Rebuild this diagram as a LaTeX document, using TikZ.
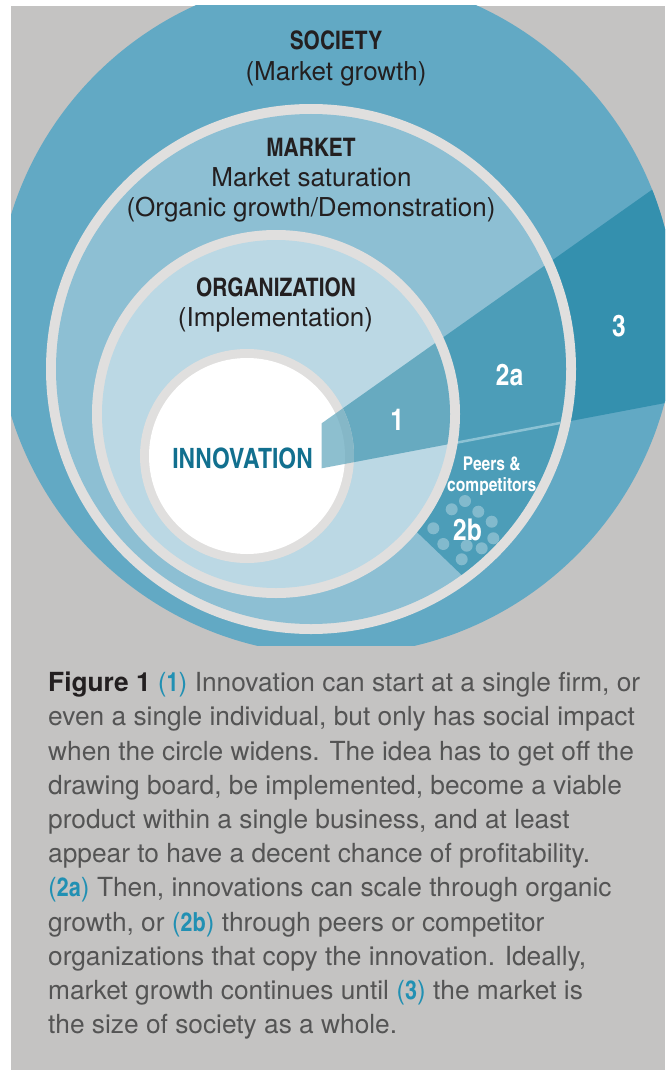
\documentclass[tikz,border=0pt]{standalone}
\usepackage{fontspec}
\setmainfont{TeX Gyre Heros}
\newfontfamily\cnfont{texgyreheroscn}[Extension=.otf,UprightFont=*-regular,BoldFont=*-bold]
\definecolor{bggrey}{HTML}{C4C3C2}
\definecolor{ringgrey}{HTML}{E0DFDE}
\definecolor{socC}{HTML}{62A9C4}
\definecolor{socW}{HTML}{3490AE}
\definecolor{mktC}{HTML}{8DBFD3}
\definecolor{mktW}{HTML}{4C9DB8}
\definecolor{orgC}{HTML}{BBD8E4}
\definecolor{orgW}{HTML}{67AAC0}
\definecolor{stripe}{HTML}{8CC2D4}
\definecolor{darktxt}{HTML}{231F20}
\definecolor{inncol}{HTML}{12708F}
\definecolor{captgrey}{HTML}{545454}
\definecolor{tealref}{HTML}{2190B3}
\newcommand\myref[1]{{\color{tealref}(\cnfont\bfseries #1\normalfont)}}
\begin{document}
\begin{tikzpicture}[x=1pt,y=-1pt,
  ttl/.style={anchor=base,inner sep=0,text=darktxt,font=\cnfont\bfseries\fontsize{25.5}{28}\selectfont},
  sub/.style={anchor=base,inner sep=0,text=darktxt,font=\fontsize{26}{28}\selectfont},
  inn/.style={anchor=base,inner sep=0,text=inncol,font=\cnfont\bfseries\fontsize{28}{30}\selectfont},
  num/.style={anchor=base,inner sep=0,text=white,font=\cnfont\bfseries\fontsize{30}{32}\selectfont},
  small/.style={anchor=base,inner sep=0,text=white,font=\cnfont\bfseries\fontsize{19}{20}\selectfont},
  capt/.style={anchor=base west,inner sep=0,text=captgrey,font=\fontsize{26.3}{30}\selectfont},
  dot/.style={fill=white,fill opacity=0.3}]
\useasboundingbox (0,0) rectangle (665,1070);
\fill[white] (0,0) rectangle (665,1070);
\fill[bggrey] (11,6) rectangle (665,1070);
% centres
\coordinate (cS) at (336,315);
\coordinate (cM) at (311,369);
\coordinate (cO) at (276,414);
\coordinate (cI) at (247,456);
% wedge
\coordinate (w1) at (321.7,423.3);
\coordinate (w2) at (800,85.1);
\coordinate (w3) at (800,377.4);
\coordinate (w4) at (321.7,468.3);
% 2b region
\coordinate (b1) at (380,457.2);
\coordinate (b3) at (800,899.8);
\coordinate (b4) at (380,496.6);
\begin{scope}
\clip (11,6) rectangle (665,645);
\fill[socC] (cS) circle[radius=340pt];
\begin{scope}
  \clip (cS) circle[radius=340pt];
  \fill[socW] (w1) -- (w2) -- (w3) -- (w4) -- cycle;
\end{scope}
\fill[ringgrey] (cM) circle[radius=265pt];
\fill[mktC] (cM) circle[radius=255pt];
\begin{scope}
  \clip (cM) circle[radius=255pt];
  \fill[mktW] (w1) -- (w2) -- (w3) -- (w4) -- cycle;
  \fill[mktW] (b1) -- (w3) -- (b3) -- (b4) -- cycle;
  \begin{scope}
    \clip (b1) -- (w3) -- (b3) -- (b4) -- cycle;
    \foreach \p in {(465,501),(451.7,509.3),(478.3,511.7),(433.3,528.3),(491.7,521.7),(493.3,538.3),(443.3,544),(466.7,545.7),(481.7,548.3),(461.7,559.3)}
      \fill[dot] \p circle[radius=6pt];
  \end{scope}
  \draw[stripe,line width=2.5pt] (w4) -- (w3);
\end{scope}
\fill[ringgrey] (cO) circle[radius=184pt];
\fill[orgC] (cO) circle[radius=174pt];
\begin{scope}
  \clip (cO) circle[radius=174pt];
  \fill[orgW] (w1) -- (w2) -- (w3) -- (w4) -- cycle;
\end{scope}
\fill[ringgrey] (cI) circle[radius=107pt];
\fill[white] (cI) circle[radius=98pt];
\begin{scope}
  \clip (cI) circle[radius=107pt];
  \fill[orgW,fill opacity=0.75] (w1) -- (w2) -- (w3) -- (w4) -- cycle;
\end{scope}
\end{scope}
% labels
\node[ttl] (soc) at (336,50) {SOCIETY};
\node[sub] (socs) at (336,80.7) {(Market growth)};
\node[ttl] (mkt) at (311,156.7) {MARKET};
\node[sub] (mkts1) at (311.5,186.7) {Market saturation};
\node[sub] (mkts2) at (311,216.5) {(Organic growth/Demonstration)};
\node[ttl] (org) at (276,296.7) {ORGANIZATION};
\node[sub] (orgs) at (275.5,326.7) {(Implementation)};
\node[inn] (inn) at (242.6,468.3) {INNOVATION};
\node[num] (n1) at (397.3,430) {1};
\node[num] (n2a) at (509.5,385) {2a};
\node[num] (n3) at (619,336.7) {3};
\node[num] (n2b) at (467.5,540) {2b};
\node[small] (p1) at (491.7,470.7) {Peers \&};
\node[small] (p2) at (491.7,491) {competitors};
% caption
\node[capt] (c1) at (48,691.7) {{\color{darktxt}\bfseries Figure 1} \myref{1} Innovation can start at a single firm, or};
\node[capt] (c2) at (48,725.9) {even a single individual, but only has social impact};
\node[capt] (c3) at (48,760.1) {when the circle widens. The idea has to get off the};
\node[capt] (c4) at (48,794.3) {drawing board, be implemented, become a viable};
\node[capt] (c5) at (48,828.5) {product within a single business, and at least};
\node[capt] (c6) at (48,862.7) {appear to have a decent chance of profitability.};
\node[capt] (c7) at (48,896.9) {\myref{2a} Then, innovations can scale through organic};
\node[capt] (c8) at (48,931.1) {growth, or \myref{2b} through peers or competitor};
\node[capt] (c9) at (48,965.3) {organizations that copy the innovation. Ideally,};
\node[capt] (c10) at (48,999.5) {market growth continues until \myref{3} the market is};
\node[capt] (c11) at (48,1033.7) {the size of society as a whole.};
\end{tikzpicture}
\end{document}
